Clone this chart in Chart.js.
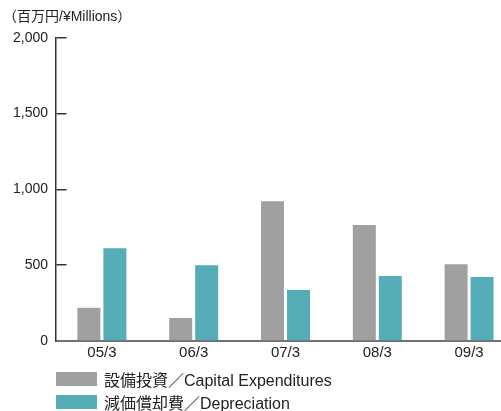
<!DOCTYPE html>
<html>
<head>
<meta charset="utf-8">
<script src="https://cdn.jsdelivr.net/npm/chart.js@4"></script>
<style>
	html, body { margin: 0; padding: 0; background: #fff; overflow: hidden; }
	#wrap { position: relative; width: 515px; height: 411px; }
	#legend { position: absolute; left: 56px; top: 367px; font-family: "Liberation Sans", "Noto Sans CJK JP", sans-serif; font-size: 16px; color: #222; }
	#legend .item { display: flex; align-items: center; height: 23px; }
	#legend .box { width: 41px; height: 14px; margin-right: 7px; }
</style>
</head>
<body>
<div id="wrap">
	<canvas id="chart"></canvas>
	<div id="legend"></div>
</div>
<script>
// data
const categories = ['05/3', '06/3', '07/3', '08/3', '09/3'];
const capexValues = [220, 152, 922, 765, 507];
const deprValues = [612, 500, 336, 428, 422];
const seriesNames = ['設備投資／Capital Expenditures', '減価償却費／Depreciation'];
const yTicks = [0, 500, 1000, 1500, 2000];
const unitLabel = '（百万円/¥Millions）';

const fontFamily = '"Liberation Sans", "Noto Sans CJK JP", sans-serif';

const chart = new Chart(document.getElementById('chart'), {
	type: 'bar',
	data: {
		labels: categories,
		datasets: [{
			label: seriesNames[0],
			data: capexValues,
			backgroundColor: '#a0a0a0'
		}, {
			label: seriesNames[1],
			data: deprValues,
			backgroundColor: '#55adb8'
		}]
	},
	options: {
		responsive: true,
		maintainAspectRatio: false,
		animation: false,
		layout: { padding: { left: 3, right: 0, top: 0, bottom: 51 } },
		plugins: {
			legend: { display: false },
			tooltip: { enabled: false },
			title: {
				display: true,
				text: unitLabel,
				align: 'start',
				color: '#222',
				font: { family: fontFamily, size: 14, weight: 'normal', lineHeight: 1.2 },
				padding: { top: 9, bottom: 12 }
			}
		},
		datasets: {
			bar: { categoryPercentage: 0.566, barPercentage: 0.885 }
		},
		scales: {
			x: {
				grid: { display: false, drawTicks: false },
				border: { display: true, color: '#707070', width: 2 },
				ticks: {
					color: '#222',
					padding: 3,
					font: { family: fontFamily, size: 15 }
				},
				afterFit: s => { s.height = 19; }
			},
			y: {
				min: 0,
				max: 2000,
				afterBuildTicks: s => { s.ticks = yTicks.map(v => ({ value: v })); },
				// short inward ticks: grid lines cut to 10px with a dash
				grid: { drawOnChartArea: true, drawTicks: false, color: '#333', lineWidth: 1.5 },
				border: { display: true, color: '#333', width: 1.5, dash: [10, 2000] },
				ticks: {
					color: '#222',
					padding: 8,
					font: { family: fontFamily, size: 14 },
					callback: v => v.toLocaleString('en-US')
				},
				afterFit: s => { s.width = 53; }
			}
		}
	}
});

// legend as html rows, colours taken from the datasets
const legendEl = document.getElementById('legend');
chart.data.datasets.forEach(ds => {
	const row = document.createElement('div');
	row.className = 'item';
	const box = document.createElement('span');
	box.className = 'box';
	box.style.background = ds.backgroundColor;
	const txt = document.createElement('span');
	txt.textContent = ds.label;
	row.appendChild(box);
	row.appendChild(txt);
	legendEl.appendChild(row);
});
</script>
</body>
</html>
